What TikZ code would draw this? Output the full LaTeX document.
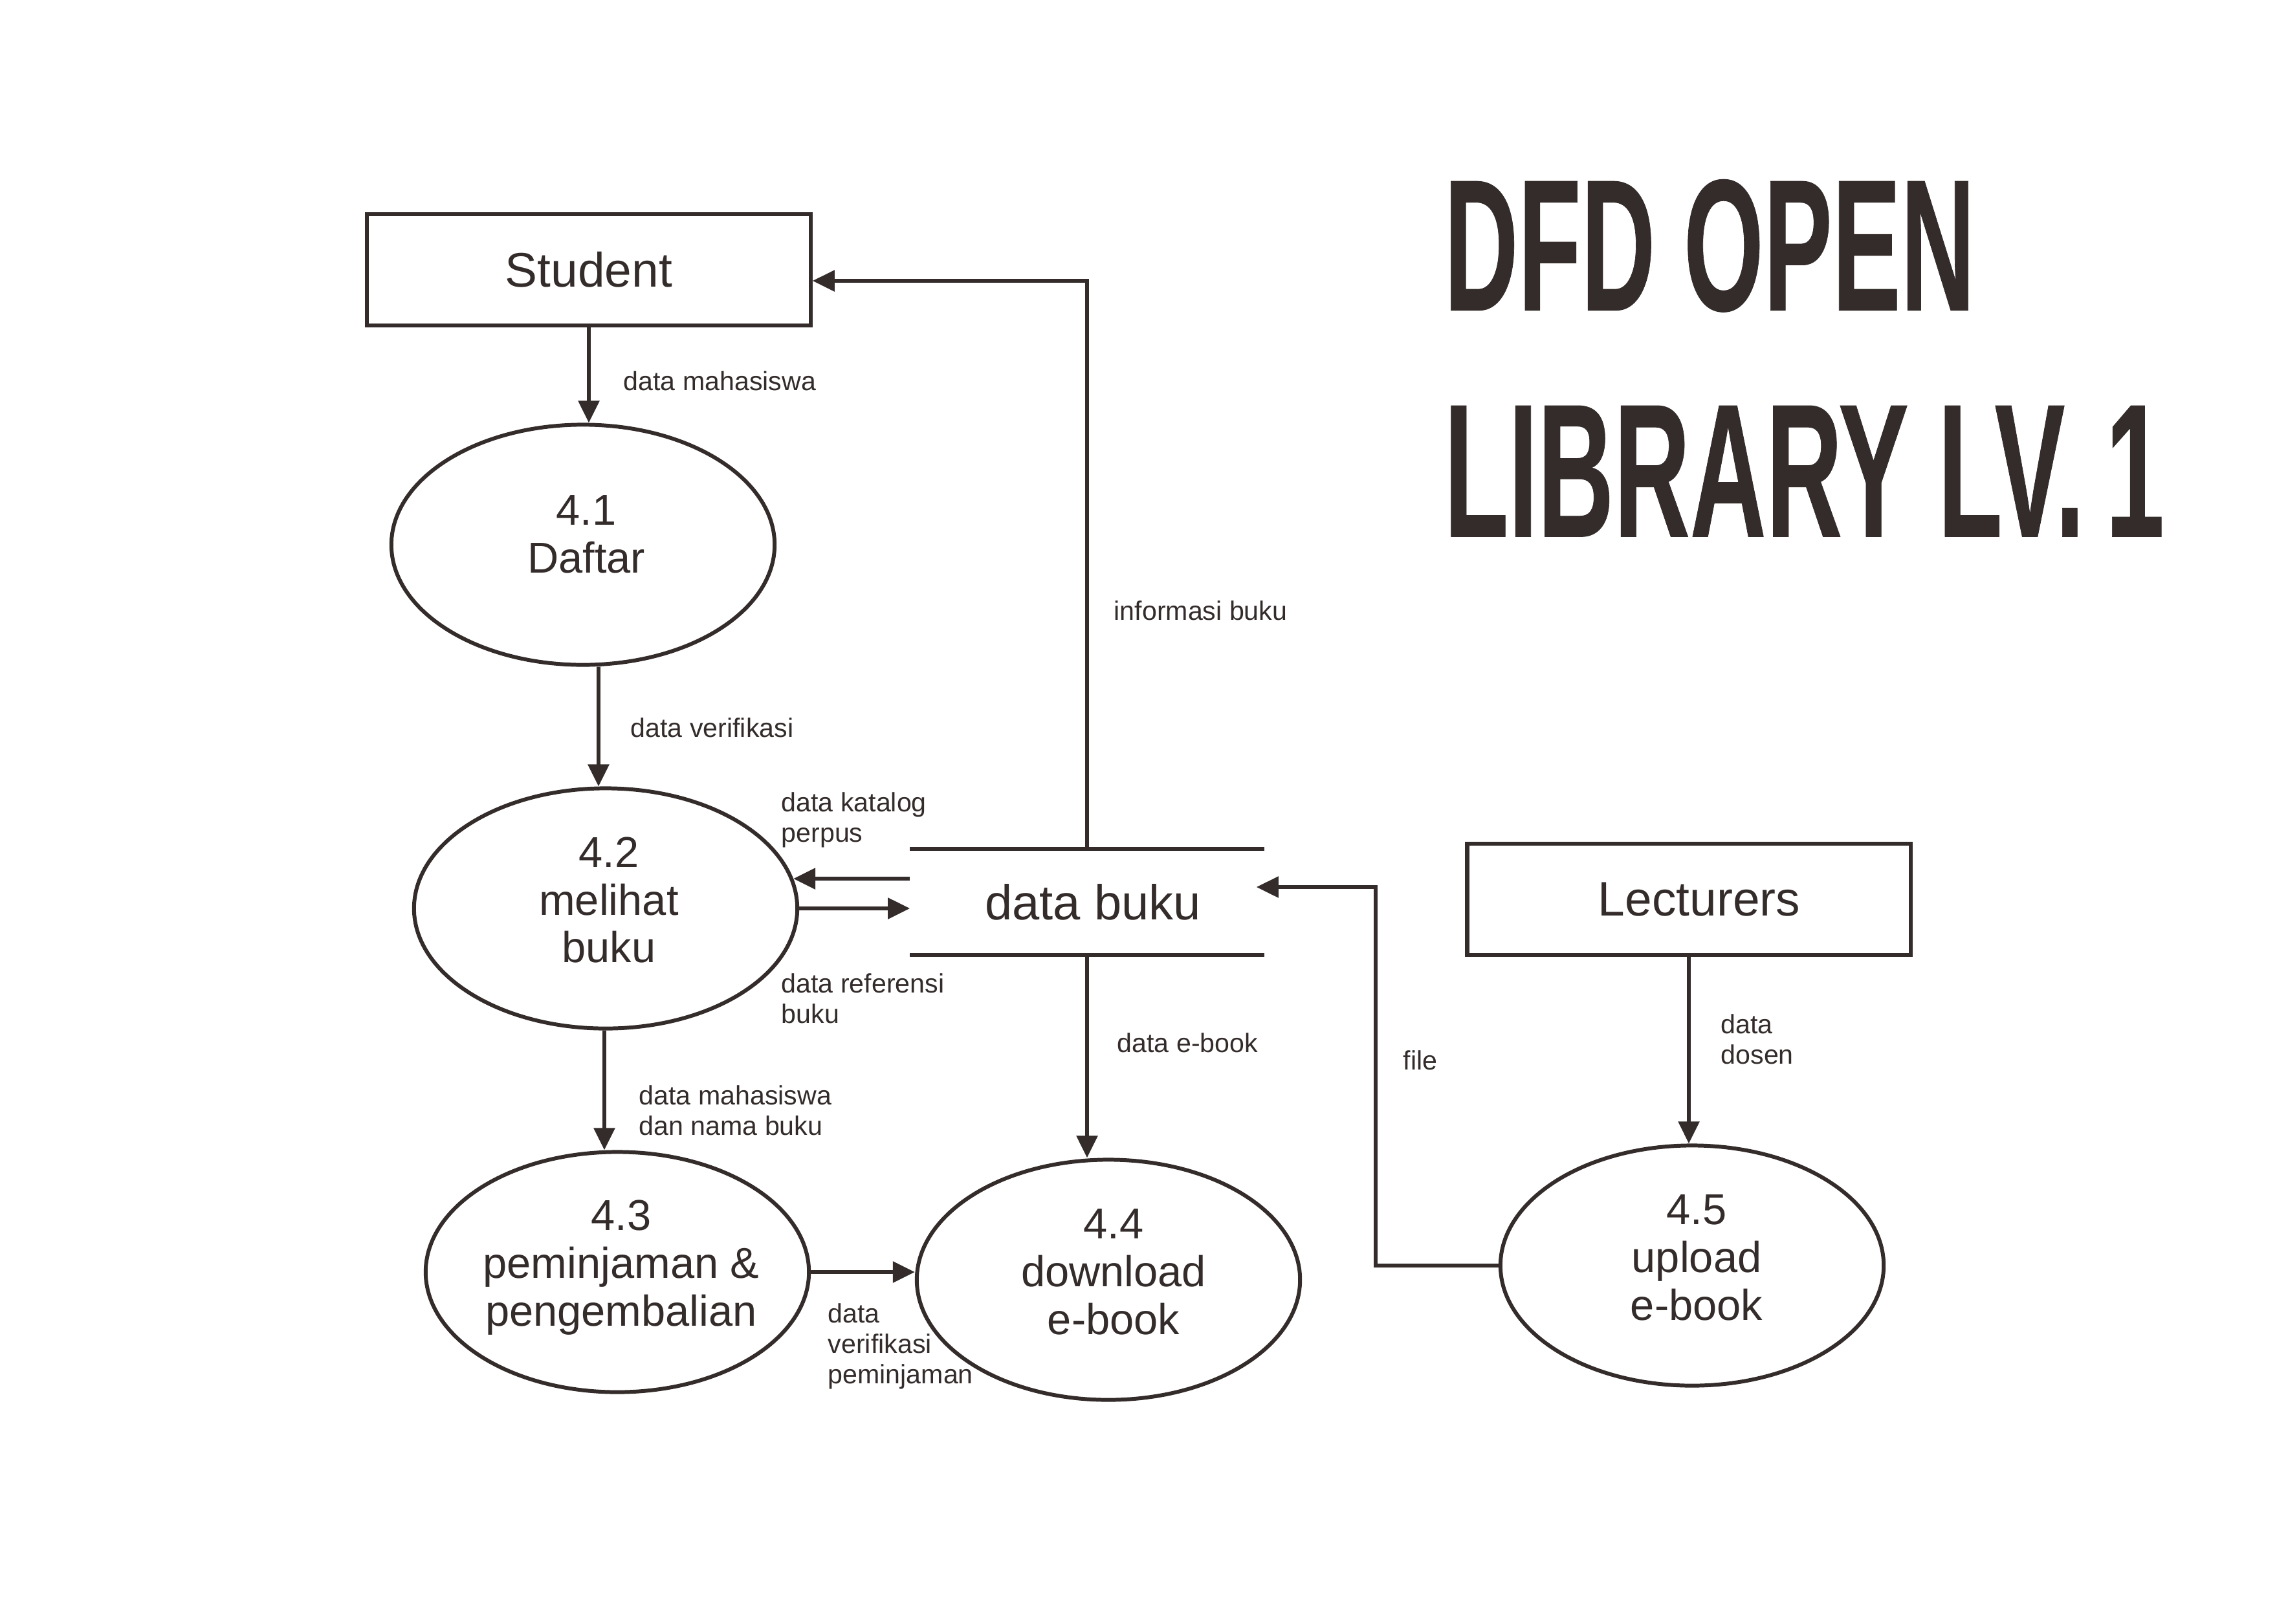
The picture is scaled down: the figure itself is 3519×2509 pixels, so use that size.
\documentclass[tikz,border=0pt]{standalone}
\usepackage{fontspec}
\setmainfont{Liberation Sans}
\newfontfamily\titlefont{Liberation Sans}[BoldFeatures={FakeBold=0.4}]
\usetikzlibrary{arrows.meta,shapes.geometric}
\definecolor{ink}{RGB}{51,44,43}
\begin{document}
\begin{tikzpicture}[x=0.01cm,y=-0.01cm,
  every node/.style={text=ink},
  proc/.style={ellipse, draw=ink, line width=1.7pt, minimum width=5.92cm, minimum height=3.71cm,
    inner sep=0pt},
  ptext/.style={inner sep=0pt, align=center, font=\fontsize{19}{21}\selectfont},
  ext/.style={rectangle, draw=ink, line width=1.8pt, minimum width=6.85cm, minimum height=1.72cm,
    inner sep=0pt, font=\fontsize{21.3}{24}\selectfont},
  flow/.style={draw=ink, line width=1.6pt, -{Triangle[length=0.34cm,width=0.32cm]}},
  lbl/.style={anchor=north west, inner sep=0pt, align=left, font=\fontsize{11.7}{13.4}\selectfont},
  storeline/.style={draw=ink, line width=1.7pt}]
\useasboundingbox (0,0) rectangle (3519,2509);

% title
\node[anchor=south west, inner sep=0pt] (t1) at (2231,483)
  {\resizebox{8.2cm}{2.02cm}{\titlefont\bfseries DFD OPEN}};
\node[anchor=south west, inner sep=0pt] (t2) at (2231,830)
  {\resizebox{11.12cm}{2.02cm}{\titlefont\bfseries LIBRARY LV.\kern0.2em1}};

% externals
\node[ext] (student) at (910,417) {Student};
\node[ext, text width=6.85cm, align=center, execute at begin node={\hspace*{0.32cm}}] (lect) at (2610,1390) {Lecturers};

% processes
\node[proc] (e41) at (901,842) {};
\node[ptext] (e41t) at ([xshift=0.05cm,yshift=0.16cm]e41.center) {4.1\\Daftar};
\node[proc] (e42) at (936,1404) {};
\node[ptext] (e42t) at ([xshift=0.05cm,yshift=0.13cm]e42.center) {4.2\\melihat\\buku};
\node[proc] (e43) at (954,1966) {};
\node[ptext] (e43t) at ([xshift=0.06cm,yshift=0.07cm]e43.center) {4.3\\peminjaman \&\\pengembalian};
\node[proc] (e44) at (1713,1978) {};
\node[ptext] (e44t) at ([xshift=0.08cm,yshift=0.12cm]e44.center) {4.4\\download\\e-book};
\node[proc] (e45) at (2615,1956) {};
\node[ptext] (e45t) at ([xshift=0.07cm,yshift=0.12cm]e45.center) {4.5\\upload\\e-book};

% data store
\node[minimum width=5.46cm, minimum height=1.62cm, inner sep=0pt] (store) at (1680,1394) {};
\node[inner sep=0pt, font=\fontsize{21.6}{24}\selectfont] (storet) at ([xshift=0.09cm]store.center) {data buku};
\draw[storeline] (store.north west) -- (store.north east);
\draw[storeline] (store.south west) -- (store.south east);

% flows
\draw[flow] (student.south) -- (student.south |- e41.north);
\draw[flow] ([xshift=0.24cm]e41.south) -- ([xshift=-0.11cm]e42.north);
\draw[flow] ([xshift=-0.02cm]e42.south) -- ([xshift=-0.2cm]e43.north);
\draw[flow] (e43.east) -- (e43.east -| e44.west);
\draw[flow] (store.west |- e42.9) -- (e42.9);
\draw[flow] (e42.east) -- (e42.east -| store.west);
\draw[flow] (store.north) |- ([yshift=-0.17cm]student.east);
\draw[flow] (store.south) -- (store.south |- e44.north);
\draw[flow] (e45.west) -- ++(-190,0) |- ([xshift=-0.12cm,yshift=0.23cm]store.east);
\draw[flow] (lect.south) -- (lect.south |- e45.north);

% labels
\node[lbl] (l1) at (963,573) {data mahasiswa};
\node[lbl] (l2) at (1721,928) {informasi buku};
\node[lbl] (l3) at (974,1109) {data verifikasi};
\node[lbl] (l4) at (1207,1224) {data katalog\\perpus};
\node[lbl] (l5) at (1207,1504) {data referensi\\buku};
\node[lbl] (l6) at (1726,1596) {data e-book};
\node[lbl] (l7) at (2168,1623) {file};
\node[lbl] (l8) at (2659,1567) {data\\dosen};
\node[lbl] (l9) at (987,1677) {data mahasiswa\\dan nama buku};
\node[lbl] (l10) at (1279,2014) {data\\verifikasi\\peminjaman};
\end{tikzpicture}
\end{document}
